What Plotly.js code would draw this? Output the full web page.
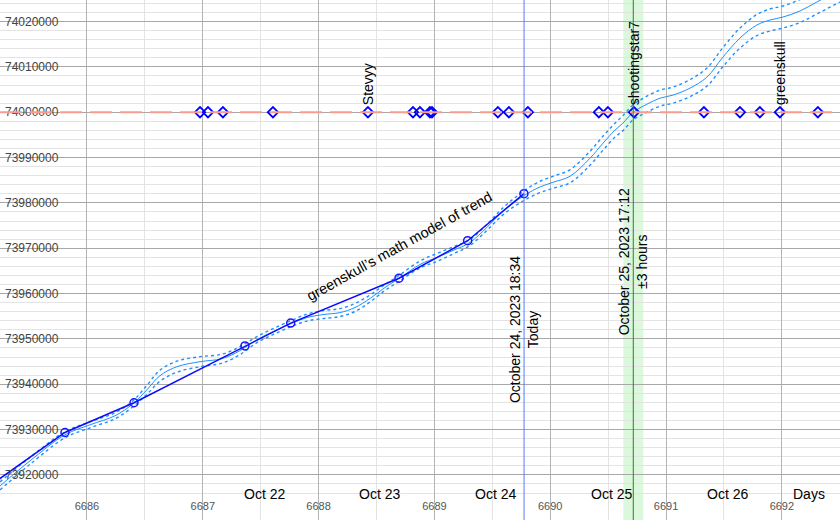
<!DOCTYPE html>
<html>
<head>
<meta charset="utf-8">
<script src="https://cdn.plot.ly/plotly-3.0.1.min.js"></script>
<style>html,body{margin:0;padding:0;background:#fff;}#chart{width:840px;height:520px;}</style>
</head>
<body>
<div id="chart"></div>
<script>
// ---- data ----
const modelDays = [6685.249,6685.508,6685.810,6686.026,6686.242,6686.397,6686.518,6686.630,6686.777,6686.976,6687.166,6687.321,6687.468,6687.606,6687.761,6687.899,6688.038,6688.184,6688.314,6688.443,6688.573,6688.694,6688.875,6689.022,6689.160,6689.307,6689.453,6689.591,6689.738,6689.885,6690.023,6690.170,6690.343,6690.455,6690.558,6690.627,6690.717,6690.835,6690.947,6691.059,6691.206,6691.353,6691.491,6691.638,6691.784,6691.897,6692.009,6692.156,6692.302,6692.501];
const modelValues = [73917570,73923100,73928840,73931050,73933040,73935690,73938790,73941880,73943870,73944970,73945640,73947400,73949840,73951600,73953370,73954700,73955360,73955800,73956910,73958900,73961330,73963320,73966410,73967960,73969500,73971270,73974590,73978120,73981000,73983210,73984530,73985860,73989830,73993150,73996020,73997570,74000000,74001770,74003090,74003760,74005300,74007740,74012150,74016350,74019230,74020330,74020990,74022320,74024310,74026960];
const modelBandHalf = [880,770,660,660,660,660,990,1220,1220,1100,990,880,660,660,660,770,880,880,880,770,660,660,770,880,770,660,660,770,990,1220,1330,1440,1550,1550,1550,1660,1660,1770,1770,1770,1880,1990,2100,2210,2320,2430,2430,2540,2650,2650];

const countDays = [6684.9,6685.810,6686.406,6687.364,6687.759,6688.694,6689.287,6689.773];
const countValues = [73912900,73929350,73935910,73948440,73953480,73963380,73971650,73982030];

const guessDays = [6686.976,6687.045,6687.174,6687.606,6688.426,6688.815,6688.875,6688.961,6688.979,6689.548,6689.643,6689.807,6690.420,6690.498,6690.723,6691.327,6691.638,6691.810,6691.983,6692.311];
const guessNames = ['','','','','Stevyy','','','','','','','','','','shootingstar7','','','','greenskull',''];
const targetValue = 74000000;

const dateLabelDays = [6687,6688,6689,6690,6691];
const dateLabels = ['Oct 22','Oct 23','Oct 24','Oct 25','Oct 26'];

const todayDay = 6689.774;
const todayText = 'October 24, 2023 18:34<br>Today';
const predictDay = 6690.717;
const predictHalfWidth = 0.086;
const predictText = 'October 25, 2023 17:12<br>±3 hours';
const modelLabel = 'greenskull’s math model of trend';

// ---- chart ----
const FONT = 'Liberation Sans, Arial, Helvetica, sans-serif';
const modelColor = '#1e90ff';
const upper = modelValues.map((v,i)=>v+modelBandHalf[i]);
const lower = modelValues.map((v,i)=>v-modelBandHalf[i]);

const traces = [
  {x: modelDays, y: upper, mode:'lines', line:{color:modelColor, width:1.4, dash:'dot', shape:'spline'}, hoverinfo:'skip'},
  {x: modelDays, y: lower, mode:'lines', line:{color:modelColor, width:1.4, dash:'dot', shape:'spline'}, hoverinfo:'skip'},
  {x: modelDays, y: modelValues, mode:'lines', line:{color:modelColor, width:1, shape:'spline'}},
  {x: countDays, y: countValues, mode:'lines+markers', line:{color:'#0b0bff', width:1.5},
   marker:{symbol:'circle-open', size:8, color:'#1515ff', line:{width:1.5}}},
  {x: guessDays, y: guessDays.map(()=>targetValue), mode:'markers',
   marker:{symbol:'diamond-open', size:8, color:'#0000ff', line:{width:1.8}}}
];

const annotations = [];
guessDays.forEach((d,i)=>{
  if (guessNames[i]) annotations.push({x:d, y:targetValue, xref:'x', yref:'y', text:guessNames[i], showarrow:false,
    textangle:-90, xanchor:'center', yanchor:'bottom', yshift:5, font:{family:FONT, size:14, color:'#000'}});
});
dateLabelDays.forEach((d,i)=>{
  annotations.push({x:d+0.53, y:26/520, xref:'x', yref:'paper', text:dateLabels[i], showarrow:false,
    xanchor:'center', yanchor:'middle', font:{family:FONT, size:14, color:'#000'}});
});
annotations.push({x:1-31/840, y:26/520, xref:'paper', yref:'paper', text:'Days', showarrow:false,
  xanchor:'center', yanchor:'middle', font:{family:FONT, size:14, color:'#000'}});
annotations.push({x:todayDay, y:1-330/520, xref:'x', yref:'paper', text:todayText, showarrow:false,
  textangle:-90, xanchor:'center', yanchor:'middle', font:{family:FONT, size:14, color:'#000'}});
annotations.push({x:predictDay, y:1-262/520, xref:'x', yref:'paper', text:predictText, showarrow:false,
  textangle:-90, xanchor:'center', yanchor:'middle', font:{family:FONT, size:14, color:'#000'}});
annotations.push({x:6688.702, y:73970386, xref:'x', yref:'y', text:modelLabel, showarrow:false,
  textangle:-29, xanchor:'center', yanchor:'middle', font:{family:FONT, size:14.5, color:'#000'}});

const shapes = [
  {type:'rect', xref:'x', yref:'paper', x0:predictDay-predictHalfWidth, x1:predictDay+predictHalfWidth, y0:0, y1:1,
   fillcolor:'#dcf8dc', line:{width:0}, layer:'below'},
  {type:'line', xref:'paper', yref:'y', x0:0, x1:1, y0:targetValue, y1:targetValue,
   line:{color:'#f99c90', width:2, dash:'22px,8px'}, layer:'above'},
  {type:'line', xref:'x', yref:'paper', x0:todayDay, x1:todayDay, y0:0, y1:1,
   line:{color:'#5a78ff', width:1}, layer:'above'},
  {type:'line', xref:'x', yref:'paper', x0:predictDay, x1:predictDay, y0:0, y1:1,
   line:{color:'#1f8a1f', width:1}, layer:'above'}
];

const layout = {
  width:840, height:520, margin:{l:0, r:0, t:0, b:0, pad:0},
  paper_bgcolor:'#fff', plot_bgcolor:'#fff', showlegend:false,
  font:{family:FONT},
  xaxis:{range:[6685.249, 6692.502], dtick:1, tick0:0, showgrid:true, gridcolor:'#b4b4b4', gridwidth:1,
    minor:{dtick:0.5, showgrid:true, gridcolor:'#e3e3e3', gridwidth:1}, zeroline:false, showline:false,
    ticks:'', ticklabelposition:'inside', ticklabelstandoff:5, tickfont:{size:11, color:'#555', family:FONT}, tickformat:'d', automargin:false},
  yaxis:{range:[73910050, 74024751], dtick:10000, tick0:0, showgrid:true, gridcolor:'#a8a8a8', gridwidth:1,
    minor:{dtick:2000, showgrid:true, gridcolor:'#e3e3e3', gridwidth:1}, zeroline:false, showline:false,
    ticks:'', ticklabelposition:'inside', ticklabelstandoff:2, tickfont:{size:12, color:'#444', family:FONT}, tickformat:'d',
    exponentformat:'none', automargin:false},
  shapes: shapes, annotations: annotations
};

Plotly.newPlot('chart', traces, layout, {displayModeBar:false, staticPlot:true});
</script>
</body>
</html>
